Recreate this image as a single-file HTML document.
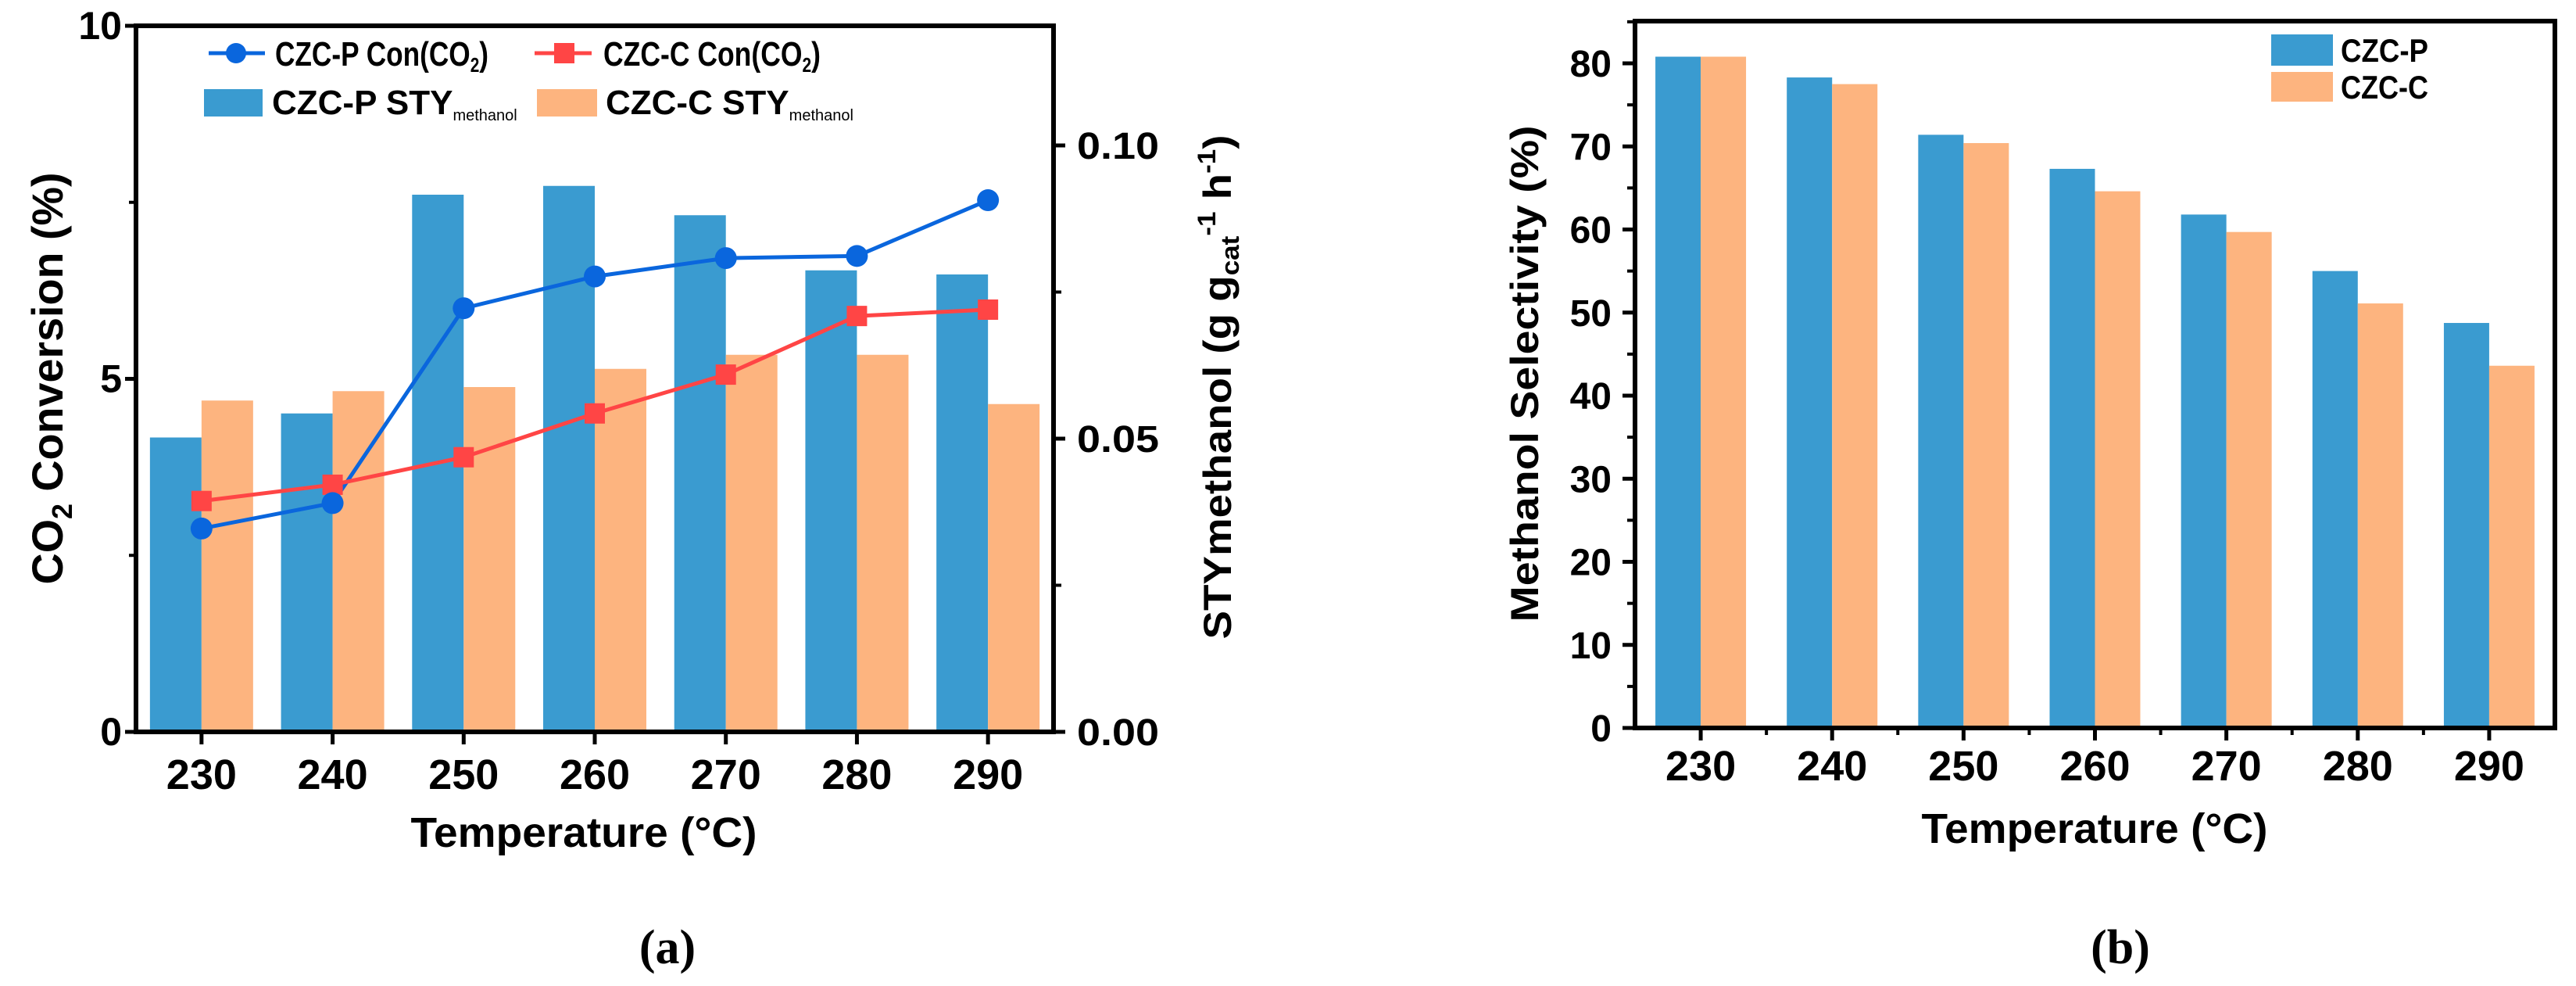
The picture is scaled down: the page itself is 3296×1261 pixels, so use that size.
<!DOCTYPE html>
<html><head><meta charset="utf-8">
<style>
html,body{margin:0;padding:0;background:#fff;}
svg{display:block;}
text{font-family:"Liberation Sans",Arial,sans-serif;font-weight:bold;fill:#000;}
</style></head>
<body>
<svg id="fig" width="3296" height="1261" viewBox="0 0 3296 1261" xmlns="http://www.w3.org/2000/svg">
<g id="chartA"></g>
<g id="chartB"></g>
</svg>
<script>
const categories = ["230","240","250","260","270","280","290"];
// Chart (a)
const styP = [0.0502,0.0543,0.0916,0.0931,0.0881,0.0787,0.0780];
const styC = [0.0565,0.0581,0.0588,0.0619,0.0643,0.0643,0.0559];
const conP = [2.88,3.24,6.00,6.45,6.71,6.74,7.53];
const conC = [3.27,3.50,3.89,4.51,5.06,5.89,5.98];
const leftTicksA = [0,5,10];
const rightTicksA = ["0.00","0.05","0.10"];
const rightTickValsA = [0,0.05,0.10];
// Chart (b)
const selP = [80.8,78.3,71.4,67.3,61.8,55.0,48.75];
const selC = [80.8,77.5,70.4,64.6,59.7,51.1,43.6];
const ticksB = [0,10,20,30,40,50,60,70,80];

const NS="http://www.w3.org/2000/svg";
function mk(parent,tag,attrs,txt){const e=document.createElementNS(NS,tag);for(const k in attrs)e.setAttribute(k,attrs[k]);if(txt!==undefined)e.textContent=txt;parent.appendChild(e);return e;}

const BLUE="#3a9bd0", ORANGE="#fdb47f", LBLUE="#0a66dd", RED="#ff4545";

// ---------- Chart A ----------
const A=document.getElementById('chartA');
const aL=174,aR=1348,aT=33,aB=936;
const aBand=(aR-aL)/categories.length;
const ax=i=>aL+aBand*(i+0.5);
const ayL=v=>aB-(v/10)*(aB-aT);
const ayR=v=>aB-(v/0.05)*375;
const bwA=66;
categories.forEach((c,i)=>{
  const b=mk(A,'rect',{x:ax(i)-bwA,y:ayR(styP[i]),width:bwA,height:aB-ayR(styP[i]),fill:BLUE});
  
  
  const o=mk(A,'rect',{x:ax(i),y:ayR(styC[i]),width:bwA,height:aB-ayR(styC[i]),fill:ORANGE});
  
  
});
const lp=mk(A,'polyline',{points:conP.map((v,i)=>ax(i)+','+ayL(v)).join(' '),fill:'none',stroke:LBLUE,'stroke-width':5});


const lc=mk(A,'polyline',{points:conC.map((v,i)=>ax(i)+','+ayL(v)).join(' '),fill:'none',stroke:RED,'stroke-width':5});


conC.forEach((v,i)=>{
  const m=mk(A,'rect',{x:ax(i)-13,y:ayL(v)-13,width:26,height:26,fill:RED});
  
  
});
conP.forEach((v,i)=>{
  const m=mk(A,'circle',{cx:ax(i),cy:ayL(v),r:14,fill:LBLUE});
  
  
});
const fa=mk(A,'rect',{x:aL,y:aT,width:aR-aL,height:aB-aT,fill:'none',stroke:'#000','stroke-width':6});


leftTicksA.forEach(v=>{
  mk(A,'line',{x1:aL-14,x2:aL,y1:ayL(v),y2:ayL(v),stroke:'#000','stroke-width':5});
  const t=mk(A,'text',{x:aL-18,y:ayL(v)+17,'text-anchor':'end','font-size':50},String(v));
  
  
});
[2.5,7.5].forEach(v=>mk(A,'line',{x1:aL-9,x2:aL,y1:ayL(v),y2:ayL(v),stroke:'#000','stroke-width':4}));
rightTickValsA.forEach((v,i)=>{
  mk(A,'line',{x1:aR,x2:aR+15,y1:ayR(v),y2:ayR(v),stroke:'#000','stroke-width':5});
  const t=mk(A,'text',{x:1378,y:ayR(v)+17,'font-size':48,textLength:105,lengthAdjust:'spacingAndGlyphs'},rightTicksA[i]);
  
  
});
[0.025,0.075].forEach(v=>mk(A,'line',{x1:aR,x2:aR+10,y1:ayR(v),y2:ayR(v),stroke:'#000','stroke-width':4}));
categories.forEach((c,i)=>{
  mk(A,'line',{x1:ax(i),x2:ax(i),y1:aB,y2:aB+16,stroke:'#000','stroke-width':5});
  const t=mk(A,'text',{x:ax(i),y:1009,'text-anchor':'middle','font-size':54},c);
  
  
});
</script>
<script>
(function(){
const A=document.getElementById('chartA');
A.insertAdjacentHTML('beforeend',`
<text x="747" y="1083" text-anchor="middle" font-size="54" textLength="443" lengthAdjust="spacingAndGlyphs">Temperature (°C)</text>
<text transform="translate(80,484) rotate(-90)" text-anchor="middle" font-size="56" textLength="527" lengthAdjust="spacingAndGlyphs">CO<tspan font-size="36" dy="12">2</tspan><tspan dy="-12"> Conversion (%)</tspan></text>
<text transform="translate(1575,495) rotate(-90)" text-anchor="middle" font-size="50" textLength="645" lengthAdjust="spacingAndGlyphs">STYmethanol (g g<tspan font-size="32" dy="10">cat</tspan><tspan font-size="32" dy="-30">-1</tspan><tspan dy="20"> h</tspan><tspan font-size="32" dy="-20">-1</tspan><tspan dy="20">)</tspan></text>
<text x="854" y="1232" text-anchor="middle" font-size="62" style="font-family:'Liberation Serif',serif">(a)</text>
<g>
 <g>
  <line x1="267" x2="339" y1="68" y2="68" stroke="#0a66dd" stroke-width="5"/>
  <circle cx="302" cy="68" r="13" fill="#0a66dd"/>
  <text x="352" y="84" font-size="44" textLength="273" lengthAdjust="spacingAndGlyphs">CZC-P Con(CO<tspan font-size="26" dy="8">2</tspan><tspan dy="-8">)</tspan></text>
 </g>
 <g>
  <line x1="684" x2="757" y1="68" y2="68" stroke="#ff4545" stroke-width="5"/>
  <rect x="709" y="55" width="26" height="26" fill="#ff4545"/>
  <text x="772" y="84" font-size="44" textLength="278" lengthAdjust="spacingAndGlyphs">CZC-C Con(CO<tspan font-size="26" dy="8">2</tspan><tspan dy="-8">)</tspan></text>
 </g>
 <g>
  <rect x="261" y="114" width="75" height="35" fill="#3a9bd0"/>
  <text x="348" y="146" font-size="44">CZC-P STY<tspan font-size="20" dy="8" font-weight="normal">methanol</tspan></text>
 </g>
 <g>
  <rect x="687" y="114" width="77" height="35" fill="#fdb47f"/>
  <text x="775" y="146" font-size="44">CZC-C STY<tspan font-size="20" dy="8" font-weight="normal">methanol</tspan></text>
 </g>
</g>`);
})();
</script>
<script>
(function(){
const B=document.getElementById('chartB');
const bL=2092,bR=3269,bT=27,bBot=931;
const band=(bR-bL)/categories.length;
const bx=i=>bL+band*(i+0.5);
const by=v=>bBot-v*10.625;
const bw=58;
categories.forEach((c,i)=>{
  const b=mk(B,'rect',{x:bx(i)-bw,y:by(selP[i]),width:bw,height:bBot-by(selP[i]),fill:BLUE});
  
  
  const o=mk(B,'rect',{x:bx(i),y:by(selC[i]),width:bw,height:bBot-by(selC[i]),fill:ORANGE});
  
  
});
const fb=mk(B,'rect',{x:bL,y:bT,width:bR-bL,height:bBot-bT,fill:'none',stroke:'#000','stroke-width':6});


ticksB.forEach(v=>{
  mk(B,'line',{x1:bL-16,x2:bL,y1:by(v),y2:by(v),stroke:'#000','stroke-width':5});
  mk(B,'line',{x1:bL-10,x2:bL,y1:by(v+5),y2:by(v+5),stroke:'#000','stroke-width':4});
  const t=mk(B,'text',{x:2062,y:by(v)+17,'text-anchor':'end','font-size':48},String(v));
  
  
});
categories.forEach((c,i)=>{
  mk(B,'line',{x1:bx(i),x2:bx(i),y1:bBot,y2:bBot+16,stroke:'#000','stroke-width':5});
  if(i<categories.length-1) mk(B,'line',{x1:bx(i)+band/2,x2:bx(i)+band/2,y1:bBot,y2:bBot+9,stroke:'#000','stroke-width':4});
  const t=mk(B,'text',{x:bx(i),y:998,'text-anchor':'middle','font-size':54},c);
  
  
});
B.insertAdjacentHTML('beforeend',`
<text x="2680" y="1078" text-anchor="middle" font-size="54" textLength="443" lengthAdjust="spacingAndGlyphs">Temperature (°C)</text>
<text transform="translate(1968,478) rotate(-90)" text-anchor="middle" font-size="50" textLength="635" lengthAdjust="spacingAndGlyphs">Methanol Selectivity (%)</text>
<text x="2713" y="1232" text-anchor="middle" font-size="62" style="font-family:'Liberation Serif',serif">(b)</text>
<g>
 <g>
  <rect x="2906" y="44" width="79" height="40" fill="#3a9bd0"/>
  <text x="2995" y="79" font-size="42" textLength="112" lengthAdjust="spacingAndGlyphs">CZC-P</text>
 </g>
 <g>
  <rect x="2906" y="92" width="79" height="38" fill="#fdb47f"/>
  <text x="2995" y="126" font-size="42" textLength="112" lengthAdjust="spacingAndGlyphs">CZC-C</text>
 </g>
</g>`);
})();
</script>
</body></html>
